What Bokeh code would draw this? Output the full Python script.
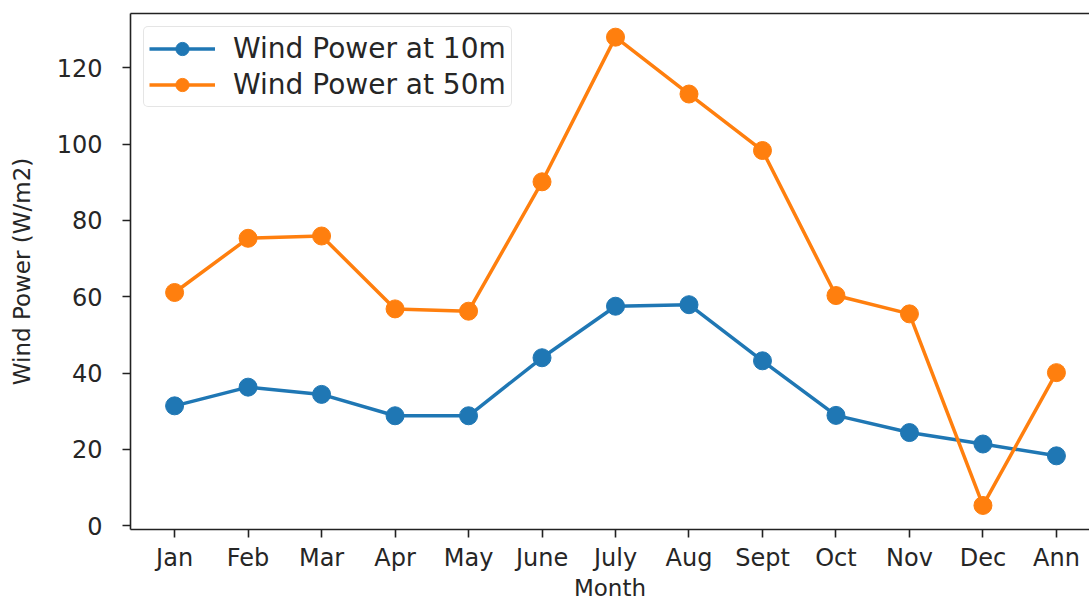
from bokeh.plotting import figure
from bokeh.models import Range1d, FixedTicker, LinearAxis, Legend, LegendItem
from bokeh.embed import file_html
from bokeh.resources import INLINE

# Monthly mean wind power density, plus the annual value ("Ann")
months = ["Jan", "Feb", "Mar", "Apr", "May", "June", "July", "Aug",
          "Sept", "Oct", "Nov", "Dec", "Ann"]
power_10m = [31.4, 36.3, 34.4, 28.8, 28.8, 44.0, 57.5, 57.9, 43.2, 28.9, 24.4, 21.4, 18.3]
power_50m = [61.1, 75.3, 75.9, 56.8, 56.2, 90.1, 128.0, 113.1, 98.3, 60.3, 55.5, 5.3, 40.1]
y_ticks = [0, 20, 40, 60, 80, 100, 120]

BLUE = "#1f77b4"
ORANGE = "#ff7f0e"
FONT = "DejaVu Sans"
INK = "#262626"

x = list(range(len(months)))

p = figure(width=1089, height=603, output_backend="svg", toolbar_location=None,
           x_range=Range1d(-0.6, 12.45), y_range=Range1d(-1.0, 134.2),
           min_border_left=130, min_border_right=0, min_border_top=13,
           min_border_bottom=73, background_fill_color="white",
           border_fill_color="white")
p.outline_line_color = None
p.xgrid.visible = False
p.ygrid.visible = False

l10 = p.line(x, power_10m, line_color=BLUE, line_width=3.5)
c10 = p.scatter(x, power_10m, size=18, fill_color=BLUE, line_color=BLUE)
l50 = p.line(x, power_50m, line_color=ORANGE, line_width=3.5)
c50 = p.scatter(x, power_50m, size=18, fill_color=ORANGE, line_color=ORANGE)

# axes
for ax in (p.xaxis[0], p.yaxis[0]):
    ax.axis_line_color = "#222222"
    ax.axis_line_width = 1.6
    ax.major_tick_line_color = "#222222"
    ax.major_tick_line_width = 1.6
    ax.major_tick_out = 8
    ax.major_tick_in = 0
    ax.minor_tick_line_color = None
    ax.major_label_text_font = FONT
    ax.major_label_text_font_size = "24px"
    ax.major_label_text_color = INK
    ax.axis_label_text_font = FONT
    ax.axis_label_text_font_size = "23px"
    ax.axis_label_text_font_style = "normal"
    ax.axis_label_text_color = INK

p.xaxis.ticker = FixedTicker(ticks=x)
p.xaxis.major_label_overrides = {i: m for i, m in enumerate(months)}
p.xaxis.axis_label = "Month"
p.xaxis.major_label_standoff = 6
p.xaxis.axis_label_standoff = 0

p.yaxis.ticker = FixedTicker(ticks=y_ticks)
p.yaxis.axis_label = "Wind Power (W/m2)"
p.yaxis.major_label_standoff = 20
p.yaxis.axis_label_standoff = 19

# top frame line
top = LinearAxis(ticker=FixedTicker(ticks=[]), major_label_text_font_size="0px",
                 axis_line_color="#222222", axis_line_width=1.6,
                 major_tick_line_color=None, minor_tick_line_color=None)
p.add_layout(top, "above")

legend = Legend(items=[
    LegendItem(label="Wind Power at 10m", renderers=[l10, c10]),
    LegendItem(label="Wind Power at 50m", renderers=[l50, c50]),
], location="top_left")
legend.margin = 13
legend.padding = 5
legend.spacing = 3
legend.glyph_width = 66
legend.glyph_height = 33
legend.label_height = 33
legend.label_standoff = 18
legend.label_text_font = FONT
legend.label_text_font_size = "28px"
legend.label_text_color = INK
legend.border_line_color = "#cccccc"
legend.border_line_width = 1.5
legend.border_radius = 5
legend.background_fill_alpha = 0.8
p.add_layout(legend, "center")

open("out.html", "w").write(file_html(p, INLINE))
